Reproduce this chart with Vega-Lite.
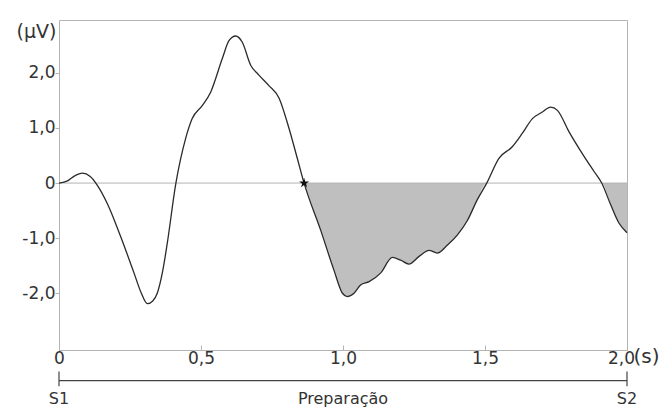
{
  "$schema": "https://vega.github.io/schema/vega-lite/v6.json",
  "width": 568,
  "height": 330,
  "autosize": {"type": "none"},
  "padding": {"left": 59, "top": 20, "right": 45, "bottom": 59},
  "background": "white",
  "config": {
    "view": {"stroke": "#b4b4b4", "strokeWidth": 1},
    "axis": {
      "grid": false,
      "domain": false,
      "labelFont": "DejaVu Sans",
      "labelFontSize": 17,
      "labelColor": "#333333",
      "tickColor": "#b4b4b4",
      "titleFont": "DejaVu Sans",
      "titleFontSize": 19,
      "titleFontWeight": "normal",
      "titleColor": "#333333"
    },
    "text": {"font": "DejaVu Sans", "color": "#333333"}
  },
  "datasets": {
    "erp": [
      {"t": 0, "v": 0}, {"t": 0.03, "v": 0.04}, {"t": 0.055, "v": 0.13}, {"t": 0.082, "v": 0.18},
      {"t": 0.11, "v": 0.12}, {"t": 0.135, "v": -0.04}, {"t": 0.17, "v": -0.37}, {"t": 0.217, "v": -0.97},
      {"t": 0.264, "v": -1.63}, {"t": 0.29, "v": -2.0}, {"t": 0.311, "v": -2.19}, {"t": 0.33, "v": -2.14},
      {"t": 0.346, "v": -2.0}, {"t": 0.365, "v": -1.6}, {"t": 0.381, "v": -1.1}, {"t": 0.411, "v": -0.02},
      {"t": 0.446, "v": 0.81}, {"t": 0.469, "v": 1.17}, {"t": 0.505, "v": 1.41}, {"t": 0.534, "v": 1.65},
      {"t": 0.575, "v": 2.26}, {"t": 0.599, "v": 2.59}, {"t": 0.622, "v": 2.67}, {"t": 0.645, "v": 2.56},
      {"t": 0.675, "v": 2.14}, {"t": 0.704, "v": 1.96}, {"t": 0.739, "v": 1.77}, {"t": 0.775, "v": 1.54},
      {"t": 0.81, "v": 0.99}, {"t": 0.839, "v": 0.45}, {"t": 0.863, "v": 0}, {"t": 0.921, "v": -0.85},
      {"t": 0.968, "v": -1.58}, {"t": 0.998, "v": -2.0}, {"t": 1.015, "v": -2.06}, {"t": 1.039, "v": -2.0},
      {"t": 1.062, "v": -1.85}, {"t": 1.092, "v": -1.79}, {"t": 1.133, "v": -1.63}, {"t": 1.174, "v": -1.35},
      {"t": 1.203, "v": -1.4}, {"t": 1.232, "v": -1.47}, {"t": 1.268, "v": -1.33}, {"t": 1.303, "v": -1.22},
      {"t": 1.332, "v": -1.27}, {"t": 1.367, "v": -1.13}, {"t": 1.403, "v": -0.94}, {"t": 1.438, "v": -0.68},
      {"t": 1.473, "v": -0.3}, {"t": 1.506, "v": 0}, {"t": 1.549, "v": 0.45}, {"t": 1.596, "v": 0.66},
      {"t": 1.631, "v": 0.9}, {"t": 1.667, "v": 1.17}, {"t": 1.702, "v": 1.29}, {"t": 1.731, "v": 1.38},
      {"t": 1.755, "v": 1.32}, {"t": 1.796, "v": 0.93}, {"t": 1.842, "v": 0.54}, {"t": 1.884, "v": 0.21},
      {"t": 1.911, "v": 0}, {"t": 1.943, "v": -0.4}, {"t": 1.972, "v": -0.73}, {"t": 2.0, "v": -0.9}
    ],
    "events": [
      {"t": 0, "label": "S1"},
      {"t": 1, "label": "Preparação"},
      {"t": 2, "label": "S2"}
    ],
    "onset": [{"t": 0.863, "v": 0}]
  },
  "layer": [
    {
      "data": {"name": "erp"},
      "transform": [{"filter": "datum.t >= 0.863 && datum.v <= 0"}],
      "mark": {"type": "area", "color": "#bfbfbf", "interpolate": "monotone"},
      "encoding": {
        "x": {
          "field": "t", "type": "quantitative",
          "scale": {"domain": [0, 2], "nice": false, "zero": false},
          "axis": {
            "orient": "bottom",
            "title": "(s)",
            "titleFontSize": 20,
            "titleAlign": "left",
            "titleBaseline": "middle",
            "titleAnchor": "start",
            "titleX": 574,
            "titleY": 6,
            "values": [0, 0.5, 1, 1.5, 2],
            "tickSize": -5,
            "labelPadding": 5,
            "labelFlush": false,
            "labelOffset": {"condition": {"test": "datum.value == 2", "value": -6}, "value": 0},
            "labelExpr": "datum.value == 0 ? '0' : replace(format(datum.value, '.1f'), '.', ',')"
          }
        },
        "y": {
          "field": "v", "type": "quantitative",
          "scale": {"domain": [-3.03, 2.96], "nice": false, "zero": false},
          "axis": {
            "orient": "left",
            "title": "(\u03bcV)",
            "titleAngle": 0,
            "titleAlign": "right",
            "titleBaseline": "middle",
            "titleAnchor": "end",
            "titleX": -3,
            "titleY": 11,
            "values": [-2, -1, 0, 1, 2],
            "tickSize": 4,
            "labelPadding": 0,
            "labelExpr": "datum.value == 0 ? '0' : replace(replace(format(datum.value, '.1f'), '.', ','), '\u2212', '-')"
          }
        },
        "y2": {"datum": 0}
      }
    },
    {
      "data": {"name": "onset"},
      "mark": {"type": "rule", "color": "#b4b4b4", "strokeWidth": 1},
      "encoding": {"y": {"datum": 0, "type": "quantitative"}}
    },
    {
      "data": {"name": "erp"},
      "mark": {"type": "line", "color": "#2a2a2a", "strokeWidth": 1.3, "interpolate": "monotone"},
      "encoding": {
        "x": {"field": "t", "type": "quantitative"},
        "y": {"field": "v", "type": "quantitative"}
      }
    },
    {
      "data": {"name": "onset"},
      "mark": {"type": "point", "shape": "M0,-1L0.2245,-0.309L0.951,-0.309L0.363,0.118L0.588,0.809L0,0.382L-0.588,0.809L-0.363,0.118L-0.951,-0.309L-0.2245,-0.309Z", "filled": true, "color": "#111111", "size": 110, "opacity": 1},
      "encoding": {
        "x": {"field": "t", "type": "quantitative"},
        "y": {"field": "v", "type": "quantitative"}
      }
    },
    {
      "data": {"name": "events"},
      "transform": [{"aggregate": [{"op": "min", "field": "t", "as": "t0"}, {"op": "max", "field": "t", "as": "t1"}]}],
      "mark": {"type": "rule", "color": "#444444", "strokeWidth": 1.2},
      "encoding": {
        "x": {"field": "t0", "type": "quantitative"},
        "x2": {"field": "t1"},
        "y": {"datum": -3.585, "type": "quantitative"}
      }
    },
    {
      "data": {"name": "events"},
      "transform": [{"filter": "datum.t != 1"}],
      "mark": {"type": "rule", "color": "#444444", "strokeWidth": 1.2},
      "encoding": {
        "x": {"field": "t", "type": "quantitative"},
        "y": {"datum": -3.42, "type": "quantitative"},
        "y2": {"datum": -3.69}
      }
    },
    {
      "data": {"name": "events"},
      "mark": {"type": "text", "fontSize": 16, "align": "center", "baseline": "middle"},
      "encoding": {
        "x": {"field": "t", "type": "quantitative"},
        "y": {"datum": -3.92, "type": "quantitative"},
        "text": {"field": "label"}
      }
    }
  ]
}
